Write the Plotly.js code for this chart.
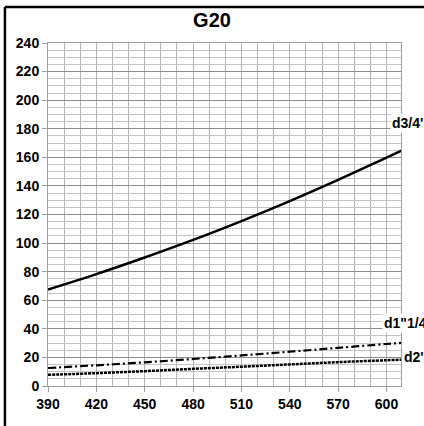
<!DOCTYPE html>
<html>
<head>
<meta charset="utf-8">
<script src="https://cdn.plot.ly/plotly-3.0.1.min.js"></script>
<style>html,body{margin:0;padding:0;background:#fff;overflow:hidden;}#chart{width:424px;height:426px;}</style>
</head>
<body>
<div id="chart"></div>
<script>
// Flow (x) values
const xVals = [390, 420, 450, 480, 510, 540, 570, 600, 610];
// Series values
const d34 = [67.5, 78.3, 89.9, 102.2, 115.4, 129.4, 144.2, 159.8, 165.0];
const d114 = [12.6, 14.5, 16.6, 18.9, 21.4, 24.0, 26.7, 29.4, 30.2];
const d2 = [7.8, 9.0, 10.4, 12.0, 13.5, 15.1, 16.7, 18.0, 18.4];
const seriesNames = ["d3/4'", 'd1"1/4\'', "d2'"];
const chartTitle = "G20";
const xTicks = [390, 420, 450, 480, 510, 540, 570, 600];
const yTicks = [0, 20, 40, 60, 80, 100, 120, 140, 160, 180, 200, 220, 240];

const FONT = "Liberation Sans, Arial, sans-serif";

const traces = [
  {x: xVals, y: d34, name: seriesNames[0], mode: 'lines', line: {color: '#000', width: 2.5, shape: 'spline'}},
  {x: xVals, y: d114, name: seriesNames[1], mode: 'lines', line: {color: '#000', width: 2.2, dash: '8px,3px,2px,3px', shape: 'spline'}},
  {x: xVals, y: d2, name: seriesNames[2], mode: 'lines', line: {color: '#000', width: 2.5, dash: '3px,1px', shape: 'spline'}}
];

const layout = {
  width: 424, height: 426,
  margin: {l: 48, r: 23, t: 43, b: 40, pad: 0},
  paper_bgcolor: '#fff', plot_bgcolor: '#fff',
  showlegend: false,
  font: {family: FONT, size: 14, color: '#000'},
  title: {text: '<b>' + chartTitle + '</b>', x: 0.5, xref: 'container', y: 0.953, yref: 'container', yanchor: 'middle', font: {family: FONT, size: 20, color: '#000'}},
  xaxis: {
    range: [390, 609], tickvals: xTicks, ticktext: xTicks.map(v => '<b>' + v + '</b>'),
    showgrid: true, gridcolor: '#b4b4b4', gridwidth: 1,
    minor: {dtick: 10, tick0: 390, showgrid: true, gridcolor: '#b4b4b4', gridwidth: 1},
    showline: true, linecolor: '#a0a0a0', linewidth: 1, mirror: true,
    ticks: 'outside', ticklen: 5, tickcolor: '#a0a0a0',
    tickfont: {family: FONT, size: 14, color: '#000'}, zeroline: false, fixedrange: true
  },
  yaxis: {
    range: [0, 240], tickvals: yTicks, ticktext: yTicks.map(v => '<b>' + v + '</b>'),
    showgrid: true, gridcolor: '#8c8c8c', gridwidth: 1,
    minor: {dtick: 5, tick0: 0, showgrid: true, gridcolor: '#c4c4c4', gridwidth: 1},
    showline: true, linecolor: '#a0a0a0', linewidth: 1, mirror: true,
    ticks: 'outside', ticklen: 5, tickcolor: '#a0a0a0',
    tickfont: {family: FONT, size: 14, color: '#000'}, zeroline: false, fixedrange: true
  },
  annotations: [
    {text: '<b>' + seriesNames[0] + '</b>', xref: 'paper', yref: 'y', x: 0.97, y: 184, xanchor: 'left', yanchor: 'middle', showarrow: false, bgcolor: '#fff', borderpad: 1, font: {family: FONT, size: 14, color: '#000'}},
    {text: '<b>' + seriesNames[1] + '</b>', xref: 'paper', yref: 'y', x: 0.945, y: 44, xanchor: 'left', yanchor: 'middle', showarrow: false, bgcolor: '#fff', borderpad: 1, font: {family: FONT, size: 14, color: '#000'}},
    {text: '<b>' + seriesNames[2] + '</b>', xref: 'paper', yref: 'y', x: 1.003, y: 20.5, xanchor: 'left', yanchor: 'middle', showarrow: false, bgcolor: '#fff', borderpad: 1, font: {family: FONT, size: 14, color: '#000'}}
  ],
  shapes: [
    {type: 'line', xref: 'paper', yref: 'paper', x0: -0.122, x1: 1.3, y0: 1.105, y1: 1.105, line: {color: '#000', width: 2.5}},
    {type: 'line', xref: 'paper', yref: 'paper', x0: -0.122, x1: -0.122, y0: -0.3, y1: 1.105, line: {color: '#000', width: 2.5}}
  ]
};

Plotly.newPlot('chart', traces, layout, {displayModeBar: false, staticPlot: true});
</script>
</body>
</html>
